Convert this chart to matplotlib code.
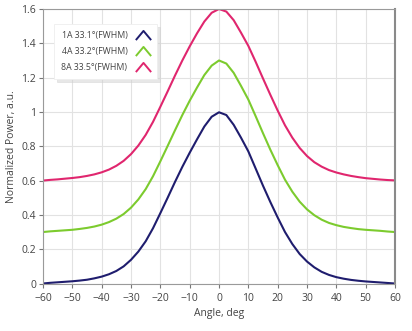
import matplotlib
matplotlib.use("Agg")
import matplotlib.pyplot as plt
from matplotlib.path import Path
from matplotlib.lines import Line2D
from matplotlib.ticker import FuncFormatter

plt.rcParams['font.family'] = ['Open Sans', 'DejaVu Sans']

angles = [-60, -57.5, -55, -52.5, -50, -47.5, -45, -42.5, -40, -37.5, -35, -32.5,
          -30, -27.5, -25, -22.5, -20, -17.5, -15, -12.5, -10, -7.5, -5, -2.5,
          0, 2.5, 5, 7.5, 10, 12.5, 15, 17.5, 20, 22.5, 25, 27.5, 30, 32.5,
          35, 37.5, 40, 42.5, 45, 47.5, 50, 52.5, 55, 57.5, 60]

power_1a = [0.000, 0.004, 0.007, 0.010, 0.013, 0.017, 0.022, 0.030, 0.040, 0.054,
            0.073, 0.100, 0.138, 0.186, 0.246, 0.322, 0.410, 0.500, 0.592, 0.680,
            0.762, 0.840, 0.915, 0.972, 0.998, 0.982, 0.925, 0.850, 0.770, 0.670,
            0.570, 0.475, 0.385, 0.300, 0.230, 0.172, 0.128, 0.094, 0.068, 0.050,
            0.037, 0.028, 0.021, 0.016, 0.012, 0.009, 0.006, 0.003, 0.000]

power_4a = [0.300, 0.304, 0.307, 0.310, 0.313, 0.318, 0.324, 0.332, 0.343, 0.358,
            0.378, 0.405, 0.442, 0.490, 0.550, 0.625, 0.712, 0.802, 0.893, 0.982,
            1.065, 1.142, 1.215, 1.270, 1.300, 1.282, 1.228, 1.152, 1.072, 0.975,
            0.876, 0.780, 0.690, 0.605, 0.535, 0.477, 0.432, 0.398, 0.372, 0.353,
            0.340, 0.330, 0.323, 0.317, 0.313, 0.310, 0.307, 0.303, 0.300]

power_8a = [0.600, 0.604, 0.607, 0.611, 0.615, 0.620, 0.627, 0.636, 0.648, 0.664,
            0.686, 0.715, 0.754, 0.804, 0.866, 0.942, 1.030, 1.120, 1.212, 1.300,
            1.382, 1.458, 1.527, 1.578, 1.600, 1.585, 1.535, 1.462, 1.385, 1.292,
            1.195, 1.100, 1.008, 0.922, 0.850, 0.790, 0.743, 0.707, 0.681, 0.661,
            0.647, 0.636, 0.627, 0.620, 0.614, 0.610, 0.606, 0.603, 0.601]

labels = ["1A 33.1\u00b0(FWHM)", "4A 33.2\u00b0(FWHM)", "8A 33.5\u00b0(FWHM)"]
colors = ["#1f1d6e", "#7ccb2e", "#e0266e"]

xticks = list(range(-60, 61, 10))
yticks = [0, 0.2, 0.4, 0.6, 0.8, 1.0, 1.2, 1.4, 1.6]

fig = plt.figure(figsize=(4.12, 3.31), dpi=100)
ax = fig.add_axes([43/412, 1 - 283.5/331, 352/412, 274.5/331])

text_color = "#444444"
for ys, c in zip([power_1a, power_4a, power_8a], colors):
    ax.plot(angles, ys, color=c, lw=1.5, solid_joinstyle='round')

ax.set_xlim(-60, 60)
ax.set_ylim(0, 1.6)
ax.set_xticks(xticks)
ax.set_yticks(yticks)
ax.yaxis.set_major_formatter(FuncFormatter(lambda v, p: f"{v:g}"))
ax.grid(True, color="#e2e2e2", lw=0.8)
ax.set_axisbelow(True)
for s in ax.spines.values():
    s.set_color("#9a9a9a")
    s.set_linewidth(0.8)
ax.spines['right'].set_linewidth(1.5)
ax.spines['right'].set_color("#8a8a8a")
ax.tick_params(axis='both', labelsize=7.5, colors="#777777", labelcolor=text_color,
               length=3, width=0.8, direction='out')
ax.tick_params(axis='x', pad=4)
ax.tick_params(axis='y', pad=2)
ax.tick_params(top=False, right=False)
ax.set_xlabel("Angle, deg", fontsize=7.5, color=text_color, labelpad=3)
ax.set_ylabel("Normalized Power, a.u.", fontsize=7.5, color=text_color, labelpad=3)

chevron = Path([(-1.0, -0.6), (0.0, 0.6), (1.0, -0.6)],
               [Path.MOVETO, Path.LINETO, Path.LINETO])
handles = [Line2D([], [], linestyle='none', marker=chevron, markersize=11,
                  markerfacecolor='none', markeredgecolor=c, markeredgewidth=1.4)
           for c in colors]
leg = ax.legend(handles, labels, loc='upper left', bbox_to_anchor=(0.02, 0.96),
                markerfirst=False, fontsize=6.3, frameon=True, fancybox=False,
                shadow={'color': '#d0d0d0', 'alpha': 0.5}, borderpad=0.8,
                labelspacing=0.8, handlelength=1.6, handletextpad=1.0,
                labelcolor=text_color)
leg.get_frame().set_edgecolor("#eeeeee")
leg.get_frame().set_linewidth(0.6)

fig.savefig("out.png", dpi=100)
